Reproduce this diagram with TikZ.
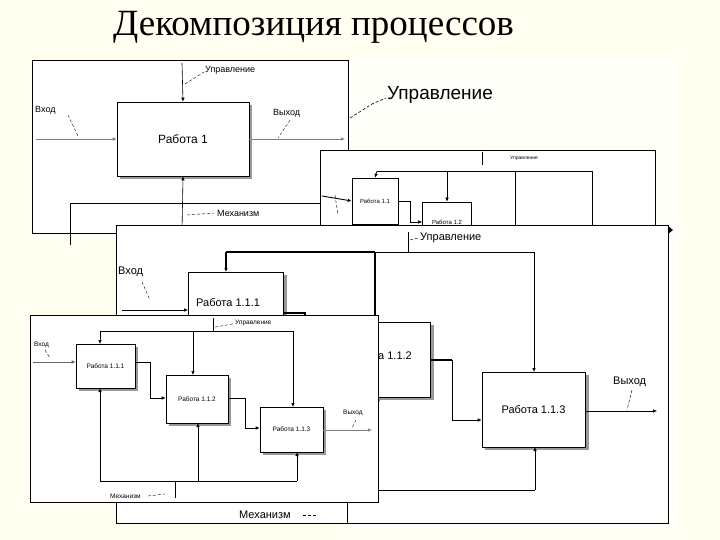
\documentclass[tikz,border=0pt]{standalone}
\usepackage{fontspec}
\setmainfont{Liberation Sans}
\newfontfamily\titlefont{Liberation Serif}
\usetikzlibrary{arrows.meta}
\begin{document}
\begin{tikzpicture}[x=1pt,y=-1pt,
  panel/.style={draw=black,fill=white,line width=0.8pt},
  box/.style={draw=black,fill=white,line width=0.6pt,inner sep=0pt},
  shadow/.style={fill=black!40},
  ln/.style={line width=0.6pt},
  arr/.style={ln,-{Latex[length=4pt,width=3.5pt]}},
  sq/.style={line width=0.4pt,densely dashed},
  lbl/.style={inner sep=0pt,anchor=west}]
\useasboundingbox (0,0) rectangle (720,540);
\fill[yellow!6] (0,0) rectangle (720,540);
\fill[yellow!2] (340,60) rectangle (680,530);
\node[lbl,font=\titlefont\fontsize{37}{40}\selectfont] (title) at (113,27) {Декомпозиция процессов};

% ---------- panel 1
\draw[panel] (32,60) rectangle (348,233);
\fill[shadow] (120,176) rectangle (252,179);
\fill[shadow] (249,105) rectangle (252,179);
\node[box,minimum width=132pt,minimum height=74pt,font=\fontsize{12}{14}\selectfont] (w1) at (183,139) {Работа 1};
\coordinate (c1) at (182,63);
\draw[arr] (c1) -- (w1.north);
\coordinate (i1) at (36,139);
\draw[arr,black!50] (i1) -- (w1.west);
\coordinate (o1) at (345,139);
\draw[arr,black!50] (w1.east) -- (o1);
\coordinate (m1) at (182,233);
\draw[arr] (m1) -- (w1.south);
\node[lbl,font=\fontsize{9}{10}\selectfont] (l1c) at (205,70) {Управление};
\draw[sq] (185,84) -- (204,72);
\node[lbl,font=\fontsize{9}{10}\selectfont] (l1i) at (35,110) {Вход};
\draw[sq] (68,115) -- (78,136);
\node[lbl,font=\fontsize{9}{10}\selectfont] (l1o) at (273,113) {Выход};
\draw[sq] (290,120) -- (278,138);
\node[lbl,font=\fontsize{9}{10}\selectfont] (l1m) at (217,213) {Механизм};
\draw[sq] (187,215) -- (214,213);
\draw[ln] (70,245) -- (70,203) -- (320,203);

% big label
\node[lbl,font=\fontsize{19}{21}\selectfont] (bigc) at (387,95) {Управление};
\draw[sq,line width=0.6pt] (350,118) -- (372,104) -- (386,98);

% ---------- panel 2
\draw[panel] (320,150) rectangle (655,240);
\node[lbl,font=\fontsize{5}{6}\selectfont] (l2c) at (510,158) {Управление};
\draw[ln] (482,152) -- (482,165);
\draw[ln] (377,171) -- (592,171);
\node[box,minimum width=46pt,minimum height=46pt,font=\fontsize{6}{7}\selectfont] (w11) at (375,201) {Работа 1.1};
\node[box,minimum width=49pt,minimum height=40pt,font=\fontsize{6}{7}\selectfont] (w12) at (447,222) {Работа 1.2};
\draw[arr] (377,171) -- (w11.north);
\draw[arr] (447,171) -- (w12.north);
\draw[ln] (515,171) -- (515,230);
\draw[ln] (592,171) -- (592,230);
\draw[arr,line width=0.9pt] (322,196) -- (w11.west);
\draw[arr] (w11.east) -- ++(12,0) |- (w12.west);
\draw[line width=1.5pt] (490,226) -- (540,226);
\draw[sq] (335,195) -- (338,215);

% ---------- panel 3
\draw[panel] (116,225) rectangle (668,523);
\fill[black] (668,226) -- (673,230) -- (668,234) -- cycle;
\node[lbl,font=\fontsize{11}{13}\selectfont] (l3c) at (420,238) {Управление};
\draw[ln] (408,232) -- (408,252);
\draw[sq] (410,240) -- (418,238);
\draw[line width=1.3pt] (226,252) -- (375,252);
\draw[ln] (375,252) -- (534,252);
\draw[line width=1.3pt] (375,252) -- (375,322);
\fill[shadow] (283,275) rectangle (287,322);
\node[box,minimum width=95pt,minimum height=60pt,anchor=north west,font=\fontsize{11}{13}\selectfont] (w111) at (188,272) {};
\node[lbl,font=\fontsize{11}{13}\selectfont] (t111) at (196,303) {Работа 1.1.1};
\draw[arr,line width=1.1pt] (226,252) -- (w111.north -| 226,272);
\draw[arr] (122,310) -- (188,310);
\node[lbl,font=\fontsize{11}{13}\selectfont] (l3i) at (118,272) {Вход};
\draw[sq] (142,282) -- (150,300);
\draw[line width=1.1pt] (283,313) -- (305,313) -- (305,322);
\fill[shadow] (430,325) rectangle (434,400);
\fill[shadow] (378,397) rectangle (434,400);
\draw[box] (370,322) rectangle (430,397);
\node[lbl,font=\fontsize{11}{13}\selectfont] (t112) at (378,356) {а 1.1.2};
\fill[shadow] (585,375) rectangle (589,450);
\fill[shadow] (485,447) rectangle (589,450);
\node[box,minimum width=103pt,minimum height=75pt,font=\fontsize{11}{13}\selectfont] (w113) at (533.5,409.5) {Работа 1.1.3};
\draw[line width=1.1pt] (430,360) -- (452,360);
\draw[arr] (452,360) -- (452,420) -- (w113.west |- 0,420);
\draw[arr] (534,252) -- (534,372);
\draw[arr] (585,411) -- (657,411);
\node[lbl,font=\fontsize{11}{13}\selectfont] (l3o) at (613,382) {Выход};
\draw[sq] (632,390) -- (627,410);
\draw[ln] (378,490) -- (535,490);
\draw[arr] (535,490) -- (535,447);
\draw[arr] (378,490) -- (378,397);
\node[lbl,font=\fontsize{11}{13}\selectfont] (l3m) at (239,515) {Механизм};
\draw[sq] (303,515) -- (318,515);
\draw[ln] (347,503) -- (347,523);

% ---------- panel 4
\draw[panel] (30,315) rectangle (378,502);
\node[lbl,font=\fontsize{6.5}{8}\selectfont] (l4c) at (235,323) {Управление};
\draw[ln] (213,318) -- (213,331);
\draw[sq] (215,327) -- (233,324);
\draw[ln] (100,331) -- (293,331);
\fill[shadow] (135,347) rectangle (138,391);
\fill[shadow] (79,388) rectangle (138,391);
\node[box,minimum width=59pt,minimum height=44pt,font=\fontsize{6.5}{8}\selectfont] (wa) at (105.5,366) {Работа 1.1.1};
\fill[shadow] (228,378) rectangle (231,426);
\fill[shadow] (169,423) rectangle (231,426);
\node[box,minimum width=62pt,minimum height=48pt,font=\fontsize{6.5}{8}\selectfont] (wb) at (197,399) {Работа 1.1.2};
\fill[shadow] (323,410) rectangle (326,455);
\fill[shadow] (263,452) rectangle (326,455);
\node[box,minimum width=63pt,minimum height=45pt,font=\fontsize{6.5}{8}\selectfont] (wc) at (291.5,429.5) {Работа 1.1.3};
\draw[arr] (100,331) -- (100,344);
\draw[arr] (193,331) -- (193,375);
\draw[arr] (293,331) -- (293,407);
\draw[arr,black!60] (33,362) -- (wa.west |- 0,362);
\node[lbl,font=\fontsize{6.5}{8}\selectfont] (l4i) at (34,345) {Вход};
\draw[sq] (45,350) -- (50,358);
\draw[arr] (135,362) -- (150,362) -- (150,398) -- (wb.west |- 0,398);
\draw[arr] (228,398) -- (245,398) -- (245,428) -- (wc.west |- 0,428);
\draw[arr,black!50] (323,430) -- (372,430);
\node[lbl,font=\fontsize{6.5}{8}\selectfont] (l4o) at (343,413) {Выход};
\draw[sq] (356,420) -- (352,428);
\draw[ln] (100,481) -- (297,481);
\draw[arr] (100,481) -- (100,388);
\draw[arr] (198,481) -- (198,423);
\draw[arr] (297,481) -- (297,452);
\node[lbl,font=\fontsize{6.5}{8}\selectfont] (l4m) at (110,496) {Механизм};
\draw[sq] (148,496) -- (165,494);
\draw[ln] (175,481) -- (175,498);
\end{tikzpicture}
\end{document}
